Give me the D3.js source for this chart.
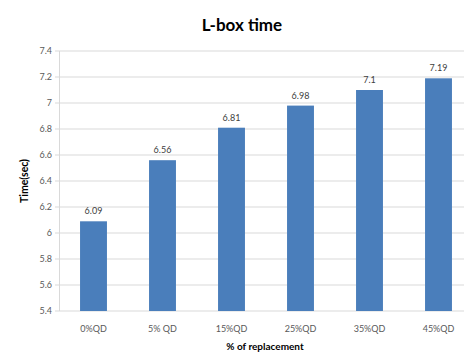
<!DOCTYPE html>
<html>
<head>
<meta charset="utf-8">
<script src="https://cdn.jsdelivr.net/npm/d3@7"></script>
<style>
  html, body { margin: 0; padding: 0; background: #fff; }
  svg { display: block; }
</style>
</head>
<body>
<svg id="chart" width="464" height="352"></svg>
<script>
// L-box flow time for each quarry-dust replacement level
const categories = ["0%QD", "5% QD", "15%QD", "25%QD", "35%QD", "45%QD"];
const times = [6.09, 6.56, 6.81, 6.98, 7.1, 7.19];
const yTicks = [5.4, 5.6, 5.8, 6, 6.2, 6.4, 6.6, 6.8, 7, 7.2, 7.4];

const svg = d3.select("#chart");
const font = "Lato, 'Liberation Sans', sans-serif";

const x = d3.scaleBand()
  .domain(categories)
  .range([59, 473])
  .paddingInner(0.61)
  .paddingOuter(0.305);

const y = d3.scaleLinear()
  .domain([5.4, 7.4])
  .range([311, 51]);

// horizontal gridlines
svg.append("g")
  .selectAll("line")
  .data(yTicks)
  .join("line")
  .attr("x1", 55)
  .attr("x2", 464)
  .attr("y1", d => y(d))
  .attr("y2", d => y(d))
  .attr("stroke", "#d9d9d9")
  .attr("stroke-width", 1.2);

// y axis line
svg.append("line")
  .attr("x1", 59.5).attr("x2", 59.5)
  .attr("y1", y(7.4)).attr("y2", y(5.4))
  .attr("stroke", "#d9d9d9")
  .attr("stroke-width", 1);

// y tick labels
const yAxis = d3.axisLeft(y).tickValues(yTicks).tickSize(0).tickPadding(7)
  .tickFormat(d3.format("~g"));
const yg = svg.append("g").attr("transform", "translate(59,0)").call(yAxis);
yg.select(".domain").remove();
yg.selectAll("text")
  .attr("font-family", font)
  .attr("font-size", 9)
  .attr("fill", "#595959");

// bars
svg.append("g")
  .selectAll("rect")
  .data(times)
  .join("rect")
  .attr("x", (d, i) => x(categories[i]))
  .attr("width", x.bandwidth())
  .attr("y", d => y(d))
  .attr("height", d => y(5.4) - y(d))
  .attr("fill", "#4a7ebb");

// value labels
svg.append("g")
  .selectAll("text")
  .data(times)
  .join("text")
  .attr("x", (d, i) => x(categories[i]) + x.bandwidth() / 2)
  .attr("y", d => y(d) - 7)
  .attr("text-anchor", "middle")
  .attr("font-family", font)
  .attr("font-size", 9)
  .attr("fill", "#404040")
  .text(d => d);

// category labels
const xAxis = d3.axisBottom(x).tickSize(0).tickPadding(15);
const xg = svg.append("g").attr("transform", "translate(0,311)").call(xAxis);
xg.select(".domain").remove();
xg.selectAll("text")
  .attr("font-family", font)
  .attr("font-size", 9)
  .attr("fill", "#595959");

// title
svg.append("text")
  .attr("x", 242)
  .attr("y", 31)
  .attr("text-anchor", "middle")
  .attr("font-family", font)
  .attr("font-weight", "bold")
  .attr("font-size", 17)
  .attr("fill", "#000")
  .text("L-box time");

// axis titles
svg.append("text")
  .attr("x", 265)
  .attr("y", 350)
  .attr("text-anchor", "middle")
  .attr("font-family", font)
  .attr("font-weight", "bold")
  .attr("font-size", 10)
  .attr("fill", "#000")
  .text("% of replacement");

svg.append("text")
  .attr("transform", "translate(28,181) rotate(-90)")
  .attr("text-anchor", "middle")
  .attr("font-family", font)
  .attr("font-weight", "bold")
  .attr("font-size", 10.5)
  .attr("fill", "#000")
  .text("Time(sec)");
</script>
</body>
</html>
